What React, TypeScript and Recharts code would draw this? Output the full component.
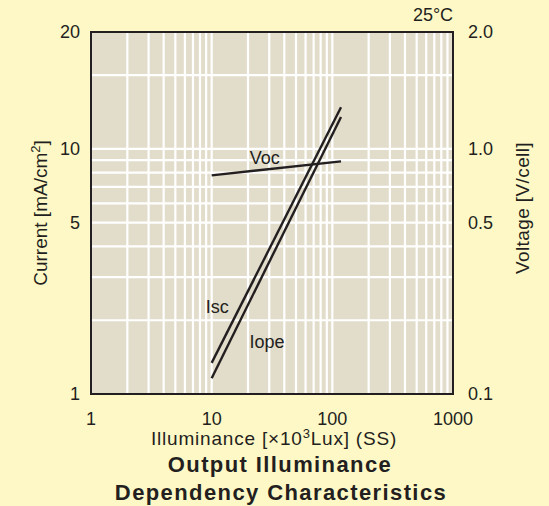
import { ComposedChart, Line, XAxis, YAxis, CartesianGrid, ReferenceArea, ReferenceDot } from 'recharts'

// illuminance in x10^3 lux
const illuminance = [10, 118]
const iscValues = [1.34, 14.8]
const iopeValues = [1.16, 13.5]
const vocValues = [0.78, 0.89]

// grid ticks (log decades), labelled majors only
const xTicks = [1, 2, 3, 4, 5, 6, 7, 8, 9, 10, 20, 30, 40, 50, 60, 70, 80, 90, 100, 200, 300, 400, 500, 600, 700, 800, 900, 1000]
const xLabels: Record<number, string> = { 1: '1', 10: '10', 100: '100', 1000: '1000' }
const currentTicks = [1, 2, 3, 4, 5, 6, 7, 8, 9, 10, 20, 30]
const currentLabels: Record<number, string> = { 1: '1', 5: '5', 10: '10', 30: '20' }
const voltageTicks = [0.1, 0.5, 1, 3]
const voltageLabels: Record<number, string> = { 0.1: '0.1', 0.5: '0.5', 1: '1.0', 3: '2.0' }

const curveLabels = [
  { text: 'Voc', x: 27.6, y: 9.2 },
  { text: 'Isc', x: 11.1, y: 2.28 },
  { text: 'Iope', x: 28.7, y: 1.64 },
]

const data = illuminance.map((x, i) => ({ x, isc: iscValues[i], iope: iopeValues[i], voc: vocValues[i] }))

const FONT = '"Liberation Sans", Arial, Helvetica, sans-serif'
const INK = '#231f20'
const BG = '#fef8c6'
const PLOT = '#e2dccb'

const tickStyle = { fontSize: 18, fill: INK, fontFamily: FONT }

export default function App() {
  return (
    <div style={{ position: 'absolute', left: 0, top: 0, width: 549, height: 506, background: BG, fontFamily: FONT }}>
      <ComposedChart width={549} height={506} data={data} margin={{ top: 32, right: 36, bottom: 82, left: 31 }}>
        <CartesianGrid yAxisId="current" stroke="#ffffff" strokeWidth={2.2} fill={PLOT} fillOpacity={1} />
        <XAxis
          dataKey="x"
          type="number"
          scale="log"
          domain={[1, 1000]}
          allowDataOverflow
          ticks={xTicks}
          tickFormatter={(v: number) => xLabels[v] ?? ''}
          tick={tickStyle}
          tickLine={false}
          axisLine={false}
          tickMargin={12}
          height={30}
          interval={0}
        />
        <YAxis
          yAxisId="current"
          type="number"
          scale="log"
          domain={[1, 30]}
          allowDataOverflow
          ticks={currentTicks}
          tickFormatter={(v: number) => currentLabels[v] ?? ''}
          tick={tickStyle}
          tickLine={false}
          axisLine={false}
          tickMargin={5}
          width={60}
          interval={0}
        />
        <YAxis
          yAxisId="voltage"
          orientation="right"
          type="number"
          scale="log"
          domain={[0.1, 3]}
          allowDataOverflow
          ticks={voltageTicks}
          tickFormatter={(v: number) => voltageLabels[v] ?? ''}
          tick={{ ...tickStyle, textAnchor: 'start' }}
          tickLine={false}
          axisLine={false}
          tickMargin={9}
          width={60}
          interval={0}
        />
        <ReferenceArea yAxisId="current" x1={1} x2={1000} y1={1} y2={30} fill="none" stroke={INK} strokeWidth={2} />
        <Line yAxisId="current" dataKey="isc" stroke={INK} strokeWidth={2.4} dot={false} isAnimationActive={false} />
        <Line yAxisId="current" dataKey="iope" stroke={INK} strokeWidth={2.4} dot={false} isAnimationActive={false} />
        <Line yAxisId="voltage" dataKey="voc" stroke={INK} strokeWidth={2.4} dot={false} isAnimationActive={false} />
        {curveLabels.map((l) => (
          <ReferenceDot
            key={l.text}
            yAxisId="current"
            x={l.x}
            y={l.y}
            r={0}
            fill="none"
            stroke="none"
            label={{ value: l.text, position: 'center', fontSize: 18, fill: INK, fontFamily: FONT }}
          />
        ))}
      </ComposedChart>
      {/* titles and axis names */}
      <svg width={549} height={506} style={{ position: 'absolute', left: 0, top: 0, pointerEvents: 'none' }}>
        <g fontFamily={FONT} fill={INK}>
          <text x={433} y={21} fontSize={18} textAnchor="middle">25°C</text>
          <text x={274} y={445} fontSize={19} textAnchor="middle" letterSpacing={0.8}>
            Illuminance [×10<tspan fontSize={13} dy={-7}>3</tspan><tspan dy={7}>Lux] (SS)</tspan>
          </text>
          <text x={0} y={0} fontSize={19} textAnchor="middle" transform="translate(47 213) rotate(-90)">
            Current [mA/cm<tspan fontSize={13} dy={-7}>2</tspan><tspan dy={7}>]</tspan>
          </text>
          <text x={0} y={0} fontSize={19} textAnchor="middle" transform="translate(529 208) rotate(-90)" letterSpacing={0.4}>
            Voltage [V/cell]
          </text>
          <text x={280} y={472} fontSize={22} fontWeight="bold" textAnchor="middle" letterSpacing={1.4}>Output Illuminance</text>
          <text x={281} y={500} fontSize={22} fontWeight="bold" textAnchor="middle" letterSpacing={1.4}>Dependency Characteristics</text>
        </g>
      </svg>
    </div>
  )
}
